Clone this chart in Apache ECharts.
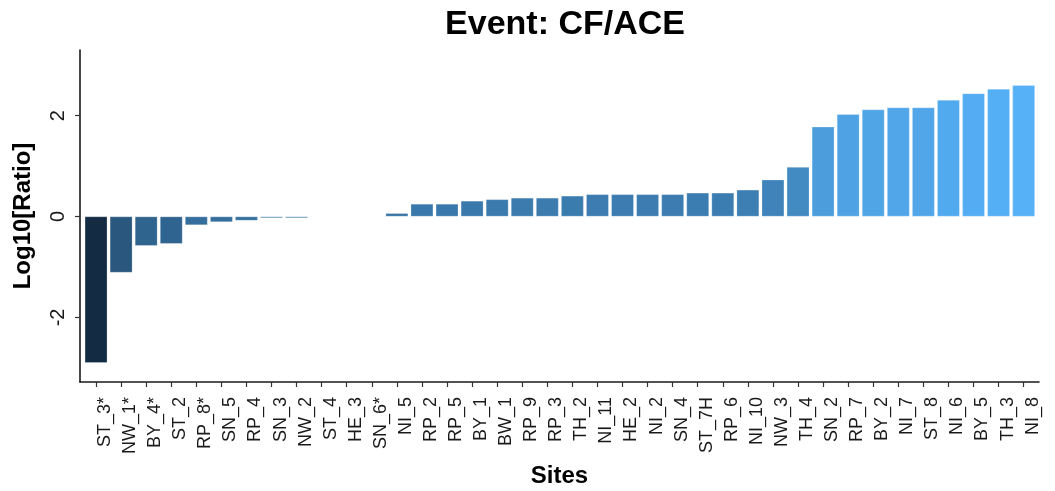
<!DOCTYPE html>
<html>
<head>
<meta charset="utf-8">
<title>Event: CF/ACE</title>
<script src="https://cdn.jsdelivr.net/npm/echarts@6/dist/echarts.min.js"></script>
<style>
  html, body { margin: 0; padding: 0; background: #ffffff; }
  #chart { width: 1055px; height: 491px; }
</style>
</head>
<body>
<div id="chart"></div>
<script>
// Sites, ordered by log10 ratio
const sites = [
  'ST_3*', 'NW_1*', 'BY_4*', 'ST_2', 'RP_8*', 'SN_5', 'RP_4', 'SN_3', 'NW_2',
  'ST_4', 'HE_3', 'SN_6*', 'NI_5', 'RP_2', 'RP_5', 'BY_1', 'BW_1', 'RP_9',
  'RP_3', 'TH_2', 'NI_11', 'HE_2', 'NI_2', 'SN_4', 'ST_7H', 'RP_6', 'NI_10',
  'NW_3', 'TH_4', 'SN_2', 'RP_7', 'BY_2', 'NI_7', 'ST_8', 'NI_6', 'BY_5',
  'TH_3', 'NI_8'
];

// Log10[Ratio] per site
const log10Ratio = [
  -2.90, -1.11, -0.58, -0.54, -0.17, -0.11, -0.08, -0.03, -0.03,
  0, 0, 0, 0.065, 0.25, 0.25, 0.31, 0.34, 0.37,
  0.37, 0.41, 0.44, 0.44, 0.44, 0.44, 0.47, 0.47, 0.53,
  0.73, 0.98, 1.78, 2.03, 2.12, 2.16, 2.16, 2.31, 2.44,
  2.53, 2.60
];

// Tick labels on the value axis
const yTicks = [-2, 0, 2];

// Fill gradient, low to high
const fillLow = '#132B43';
const fillHigh = '#56B1F7';

const yMin = -3.28;
const yMax = 3.30;

const chart = echarts.init(document.getElementById('chart'), null, { renderer: 'canvas' });

const textFont = 'Liberation Sans, Arial, Helvetica, sans-serif';

chart.setOption({
  animation: false,
  backgroundColor: '#ffffff',
  title: {
    text: 'Event: CF/ACE',
    left: 560,
    textAlign: 'center',
    top: 3,
    textStyle: {
      fontFamily: textFont,
      fontSize: 34,
      fontWeight: 'bold',
      color: '#000000'
    }
  },
  grid: [
    // frame: axis lines, y ticks and titles
    { left: 80, top: 50, width: 959, height: 332, containLabel: false, outerBoundsMode: 'none' },
    // bars
    { left: 83.5, top: 50, width: 952.7, height: 332, containLabel: false, outerBoundsMode: 'none' }
  ],
  xAxis: [
    {
      gridIndex: 0,
      type: 'value',
      min: 0,
      max: 1,
      axisLine: { show: true, onZero: false, lineStyle: { color: '#1a1a1a', width: 1.6 } },
      axisTick: { show: false },
      axisLabel: { show: false },
      splitLine: { show: false },
      name: 'Sites',
      nameLocation: 'middle',
      nameGap: 82,
      nameTextStyle: {
        fontFamily: textFont,
        fontSize: 24,
        fontWeight: 'bold',
        color: '#000000'
      }
    },
    {
      gridIndex: 1,
      type: 'category',
      data: sites,
      boundaryGap: true,
      axisLine: { show: false, onZero: false },
      axisTick: {
        show: true,
        alignWithLabel: true,
        length: 5,
        lineStyle: { color: '#333333', width: 1.2 }
      },
      axisLabel: {
        show: true,
        interval: 0,
        rotate: 90,
        margin: 15,
        verticalAlign: 'top',
        fontFamily: textFont,
        fontSize: 18,
        color: '#1a1a1a'
      },
      splitLine: { show: false }
    }
  ],
  yAxis: [
    {
      gridIndex: 0,
      type: 'value',
      min: yMin,
      max: yMax,
      axisLine: { show: true, onZero: false, lineStyle: { color: '#1a1a1a', width: 1.6 } },
      axisTick: {
        show: true,
        length: 5,
        customValues: yTicks,
        lineStyle: { color: '#333333', width: 1.2 }
      },
      axisLabel: {
        show: true,
        rotate: 90,
        margin: 12,
        customValues: yTicks,
        fontFamily: textFont,
        fontSize: 20,
        color: '#1a1a1a'
      },
      splitLine: { show: false },
      name: 'Log10[Ratio]',
      nameLocation: 'middle',
      nameGap: 45,
      nameTextStyle: {
        fontFamily: textFont,
        fontSize: 24,
        fontWeight: 'bold',
        color: '#000000'
      }
    },
    {
      gridIndex: 1,
      type: 'value',
      min: yMin,
      max: yMax,
      show: false,
      splitLine: { show: false }
    }
  ],
  visualMap: {
    show: false,
    type: 'continuous',
    seriesIndex: 0,
    min: Math.min(...log10Ratio),
    max: Math.max(...log10Ratio),
    inRange: { color: [fillLow, fillHigh] }
  },
  series: [
    {
      type: 'bar',
      xAxisIndex: 1,
      yAxisIndex: 1,
      data: log10Ratio,
      barCategoryGap: '10%',
      itemStyle: {
        borderColor: 'rgba(255,255,255,0.4)',
        borderWidth: 0.6
      }
    }
  ]
});
</script>
</body>
</html>
